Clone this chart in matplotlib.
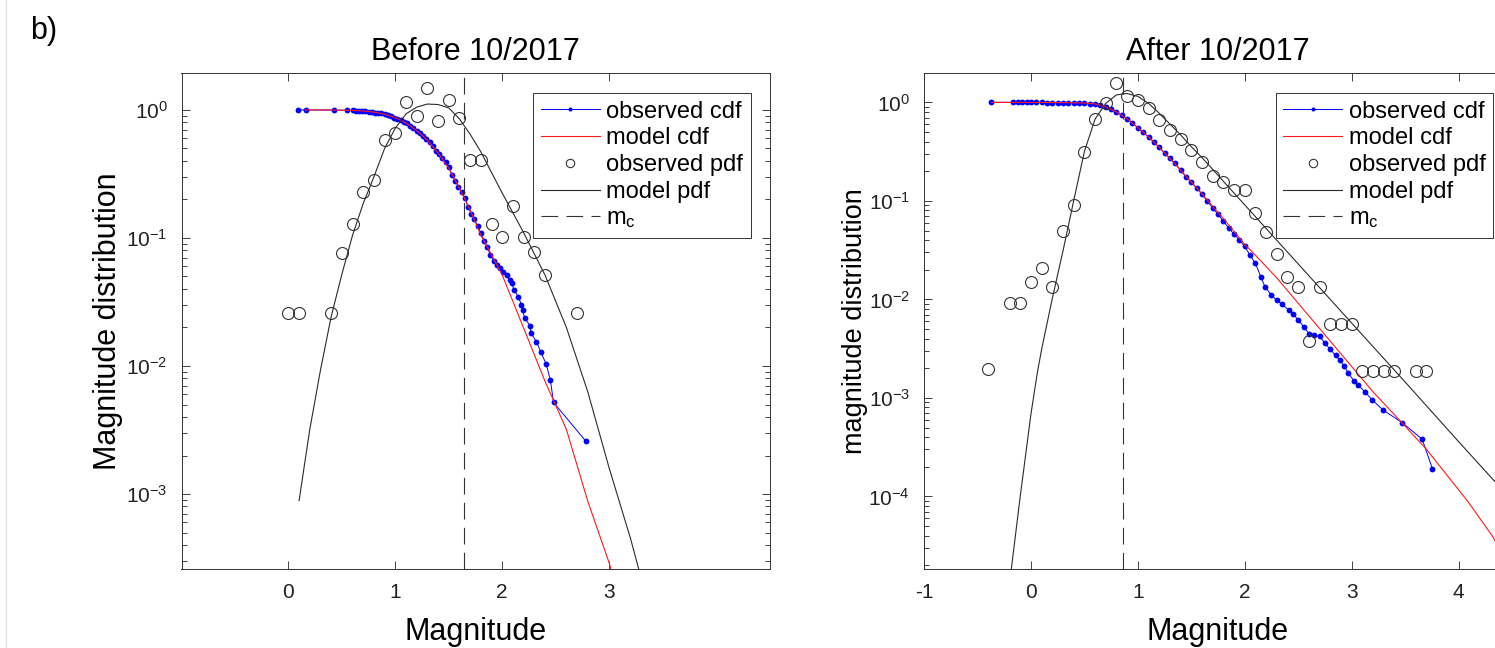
import matplotlib
matplotlib.use('Agg')
import matplotlib.pyplot as plt
from matplotlib.ticker import LogLocator, NullFormatter
from matplotlib.lines import Line2D

plt.rcParams['font.family'] = ['Liberation Sans', 'DejaVu Sans']
plt.rcParams['mathtext.fontset'] = 'custom'
plt.rcParams['mathtext.rm'] = 'Liberation Sans'
plt.rcParams['mathtext.it'] = 'Liberation Sans:italic'
plt.rcParams['axes.unicode_minus'] = False
plt.rcParams['lines.scale_dashes'] = False

# ---------------- Before 10/2017 ----------------
# observed cdf (blue dots)
m_cdf_L = [0.09, 0.16, 0.43, 0.55, 0.60, 0.63, 0.66, 0.69, 0.72, 0.75, 0.78, 0.81, 0.84, 0.87,
           0.90, 0.93, 0.96, 0.99, 1.02, 1.05, 1.08, 1.11, 1.14, 1.17, 1.20, 1.23, 1.26, 1.29,
           1.32, 1.35, 1.38, 1.41, 1.44, 1.47, 1.50, 1.53, 1.56, 1.59, 1.62, 1.65, 1.68, 1.71,
           1.74, 1.77, 1.80, 1.83, 1.86, 1.89, 1.92, 1.95, 1.98, 2.01, 2.04, 2.07, 2.09, 2.11,
           2.15, 2.18, 2.19, 2.21, 2.26, 2.27, 2.32, 2.36, 2.41, 2.45, 2.48, 2.78]
cdf_obs_L = [1.0, 0.9975, 0.995, 0.992, 0.990, 0.986, 0.982, 0.977, 0.972, 0.966, 0.960, 0.953,
             0.945, 0.937, 0.925, 0.91, 0.89, 0.87, 0.85, 0.83, 0.81, 0.785, 0.75, 0.72, 0.685,
             0.66, 0.63, 0.595, 0.565, 0.52, 0.48, 0.45, 0.42, 0.39, 0.36, 0.31, 0.28, 0.25,
             0.228, 0.205, 0.175, 0.155, 0.14, 0.123, 0.11, 0.095, 0.085, 0.073, 0.066, 0.062,
             0.058, 0.0545, 0.051, 0.047, 0.0443, 0.0392, 0.0348, 0.030, 0.0274, 0.0236, 0.0207,
             0.018, 0.0155, 0.0129, 0.0104, 0.0078, 0.0052, 0.0026]
# model cdf (red)
m_mcdf_L = [0.16, 0.4, 0.6, 0.7, 0.8, 0.9, 1.0, 1.1, 1.2, 1.3, 1.4, 1.5, 1.6, 1.7, 1.8, 1.9,
            2.0, 2.2, 2.4, 2.6, 2.8, 3.0, 3.05]
cdf_mod_L = [1.0, 0.998, 0.99, 0.98, 0.96, 0.925, 0.87, 0.79, 0.69, 0.58, 0.46, 0.35, 0.245,
             0.165, 0.105, 0.074, 0.0514, 0.0198, 0.0076, 0.0032, 8.8e-4, 2.9e-4, 2.1e-4]
# observed pdf (circles)
m_pdf_L = [0.0, 0.1, 0.4, 0.5, 0.6, 0.7, 0.8, 0.9, 1.0, 1.1, 1.2, 1.3, 1.4, 1.5, 1.6, 1.7,
           1.8, 1.9, 2.0, 2.1, 2.2, 2.3, 2.4, 2.7]
pdf_obs_L = [0.0258, 0.0258, 0.0258, 0.0768, 0.128, 0.229, 0.284, 0.583, 0.657, 1.15, 0.903,
             1.49, 0.816, 1.197, 0.861, 0.407, 0.407, 0.129, 0.102, 0.178, 0.102, 0.077, 0.051,
             0.0258]
# model pdf (black)
m_mpdf_L = [0.1, 0.2, 0.3, 0.4, 0.5, 0.6, 0.7, 0.8, 0.9, 1.0, 1.1, 1.2, 1.3, 1.4, 1.5, 1.6,
            1.7, 1.8, 1.9, 2.0, 2.2, 2.4, 2.6, 2.8, 3.0, 3.2, 3.3]
pdf_mod_L = [8.9e-4, 3.2e-3, 9.3e-3, 0.0243, 0.052, 0.105, 0.186, 0.30, 0.50, 0.72, 0.93, 1.05,
             1.11, 1.10, 1.035, 0.85, 0.645, 0.47, 0.324, 0.224, 0.110, 0.0513, 0.020, 6.3e-3,
             1.6e-3, 4.5e-4, 2.2e-4]
mc_L = 1.64

# ---------------- After 10/2017 ----------------
m_cdf_R = [-0.37, -0.17, -0.12, -0.08, -0.04, 0.0, 0.05, 0.1, 0.15, 0.2, 0.25, 0.3, 0.35, 0.4,
           0.45, 0.5, 0.55, 0.6, 0.65, 0.7, 0.75, 0.8, 0.85, 0.9, 0.95, 1.0, 1.05, 1.1, 1.15,
           1.2, 1.25, 1.3, 1.35, 1.4, 1.45, 1.5, 1.55, 1.6, 1.65, 1.7, 1.75, 1.8, 1.85, 1.9,
           1.95, 2.0, 2.05, 2.1, 2.15, 2.19, 2.25, 2.3, 2.35, 2.41, 2.45, 2.5, 2.55, 2.6, 2.65,
           2.7, 2.75, 2.8, 2.85, 2.89, 2.93, 2.97, 3.02, 3.06, 3.125, 3.193, 3.296, 3.473,
           3.66, 3.756]
cdf_obs_R = [1.0, 1.0, 1.0, 1.0, 0.999, 0.999, 0.998, 0.997, 0.996, 0.995, 0.994, 0.993, 0.99,
             0.988, 0.985, 0.98, 0.972, 0.96, 0.935, 0.90, 0.855, 0.80, 0.745, 0.685, 0.615,
             0.555, 0.495, 0.445, 0.395, 0.35, 0.305, 0.27, 0.24, 0.205, 0.175, 0.155, 0.135,
             0.117, 0.099, 0.085, 0.073, 0.062, 0.053, 0.046, 0.04, 0.0345, 0.028, 0.0232,
             0.017, 0.0134, 0.011, 0.0098, 0.0089, 0.0078, 0.0071, 0.0062, 0.0053, 0.0045,
             0.0043, 0.0042, 0.0036, 0.0031, 0.0027, 0.0024, 0.0021, 0.00177, 0.0015, 0.00135,
             0.00115, 9.5e-4, 7.5e-4, 5.6e-4, 3.8e-4, 1.9e-4]
m_mcdf_R = [-0.37, 0.0, 0.3, 0.5, 0.6, 0.7, 0.8, 0.9, 1.0, 1.1, 1.2, 1.3, 1.4, 1.5, 1.6, 1.7,
            1.8, 1.9, 2.0, 2.07, 2.3, 2.6, 2.9, 3.2, 3.47, 3.7, 3.91, 4.1, 4.32, 4.5]
cdf_mod_R = [1.0, 0.999, 0.995, 0.985, 0.965, 0.9, 0.80, 0.68, 0.555, 0.445, 0.35, 0.27, 0.205,
             0.155, 0.118, 0.088, 0.066, 0.049, 0.036, 0.0304, 0.0165, 0.0068, 0.0028, 0.00115,
             5.6e-4, 3.0e-4, 1.55e-4, 8.5e-5, 3.9e-5, 1.7e-5]
m_pdf_R = [-0.4, -0.2, -0.1, 0.0, 0.1, 0.2, 0.3, 0.4, 0.5, 0.6, 0.7, 0.8, 0.9, 1.0, 1.1, 1.2,
           1.3, 1.4, 1.5, 1.6, 1.7, 1.8, 1.9, 2.0, 2.1, 2.2, 2.3, 2.4, 2.5, 2.6, 2.7, 2.8, 2.9,
           3.0, 3.1, 3.2, 3.3, 3.4, 3.6, 3.7]
pdf_obs_R = [0.00196, 0.00924, 0.00924, 0.0151, 0.0209, 0.01324, 0.0493, 0.0906, 0.316, 0.677,
             0.977, 1.56, 1.16, 1.055, 0.88, 0.66, 0.52, 0.42, 0.33, 0.25, 0.18, 0.156, 0.129,
             0.129, 0.0746, 0.0479, 0.0288, 0.0167, 0.0132, 0.0038, 0.0132, 0.0056, 0.0056,
             0.0056, 0.00188, 0.00188, 0.00188, 0.00188, 0.00188, 0.00188]
m_mpdf_R = [-0.19, -0.15, -0.1, -0.05, 0.0, 0.06, 0.1, 0.2, 0.3, 0.4, 0.5, 0.6, 0.7, 0.8, 0.9,
            1.0, 1.1, 1.2, 1.3, 1.4, 1.5, 1.6, 1.7, 1.8, 1.9, 2.0, 2.5, 3.0, 3.5, 4.0, 4.5]
pdf_mod_R = [1.6e-5, 3.6e-5, 1.0e-4, 2.6e-4, 6.8e-4, 1.8e-3, 3.1e-3, 0.0102, 0.031, 0.10, 0.316,
             0.676, 0.977, 1.19, 1.23, 1.15, 0.977, 0.776, 0.603, 0.468, 0.355, 0.275, 0.209,
             0.158, 0.12, 0.091, 0.0229, 5.75e-3, 1.45e-3, 3.6e-4, 9.1e-5]
mc_R = 0.86

W, H = 1495, 648


def draw_panel(ax, mc_x, cdf_y, mx_cdf, mcdf_y, mx_pdf, pdf_y, mx_mpdf, mpdf_y, mc,
               title, ylabel, ylabel_size, ylabel_pad, xticks, ylim):
    ax.plot(mc_x, cdf_y, '-', color='#0000ff', lw=0.7, marker='o', ms=4.2, mew=0,
            label='observed cdf')
    ax.plot(mx_cdf, mcdf_y, '-', color='#ff1a1a', lw=0.8, label='model cdf')
    ax.plot(mx_pdf, pdf_y, 'o', mfc='none', mec='#333333', ms=8.6, mew=0.8,
            label='observed pdf')
    ax.plot(mx_mpdf, mpdf_y, '-', color='#2b2b2b', lw=0.8, label='model pdf')
    ln = ax.axvline(mc, color='#333333', lw=0.8, label='m$_\\mathregular{c}$')
    ln.set_dashes((12, 6))

    ax.set_yscale('log')
    ax.set_xlim(-1, 4.5)
    ax.set_ylim(*ylim)
    ax.set_xticks(xticks)
    ax.yaxis.set_major_locator(LogLocator(base=10, numticks=10))
    ax.yaxis.set_minor_locator(LogLocator(base=10, subs=range(2, 10), numticks=20))
    ax.yaxis.set_minor_formatter(NullFormatter())
    ax.tick_params(which='both', direction='in', top=True, right=True, width=0.6,
                   labelsize=15, pad=10, colors='#222222')
    ax.tick_params(which='major', length=6)
    ax.tick_params(which='minor', length=3.5)
    for s in ax.spines.values():
        s.set_linewidth(0.7)
        s.set_color('#333333')

    ax.set_title(title, fontsize=22, pad=9)
    ax.set_xlabel('Magnitude', fontsize=22, labelpad=11)
    ax.set_ylabel(ylabel, fontsize=ylabel_size, labelpad=ylabel_pad)

    leg = ax.legend(loc='upper right', bbox_to_anchor=(0.968, 0.959), borderaxespad=0,
                    fontsize=17, numpoints=1, markerscale=0.7, handlelength=2.5,
                    handletextpad=0.27, labelspacing=0.2, borderpad=0.32,
                    fancybox=False, framealpha=1, edgecolor='#333333')
    leg.get_frame().set_linewidth(0.7)


fig = plt.figure(figsize=(W / 100, H / 100), dpi=100)
axL = fig.add_axes([181.5 / W, 79 / H, 588 / W, 496.3 / H])
axR = fig.add_axes([924 / W, 79 / H, 588 / W, 496.3 / H])

draw_panel(axL, m_cdf_L, cdf_obs_L, m_mcdf_L, cdf_mod_L, m_pdf_L, pdf_obs_L, m_mpdf_L,
           pdf_mod_L, mc_L, 'Before 10/2017', 'Magnitude distribution', 22, 2,
           [0, 1, 2, 3], (2.6e-4, 1.95))
draw_panel(axR, m_cdf_R, cdf_obs_R, m_mcdf_R, cdf_mod_R, m_pdf_R, pdf_obs_R, m_mpdf_R,
           pdf_mod_R, mc_R, 'After 10/2017', 'magnitude distribution', 19.5, 0,
           [-1, 0, 1, 2, 3, 4], (1.83e-5, 2.0))

fig.text(30 / W, 1 - 31 / H, 'b)', fontsize=22, va='center', ha='left')
fig.add_artist(Line2D([6 / W, 6 / W], [0, 1], transform=fig.transFigure, color='#e4e4e4',
                      lw=1))

fig.savefig('out.png', dpi=100)
